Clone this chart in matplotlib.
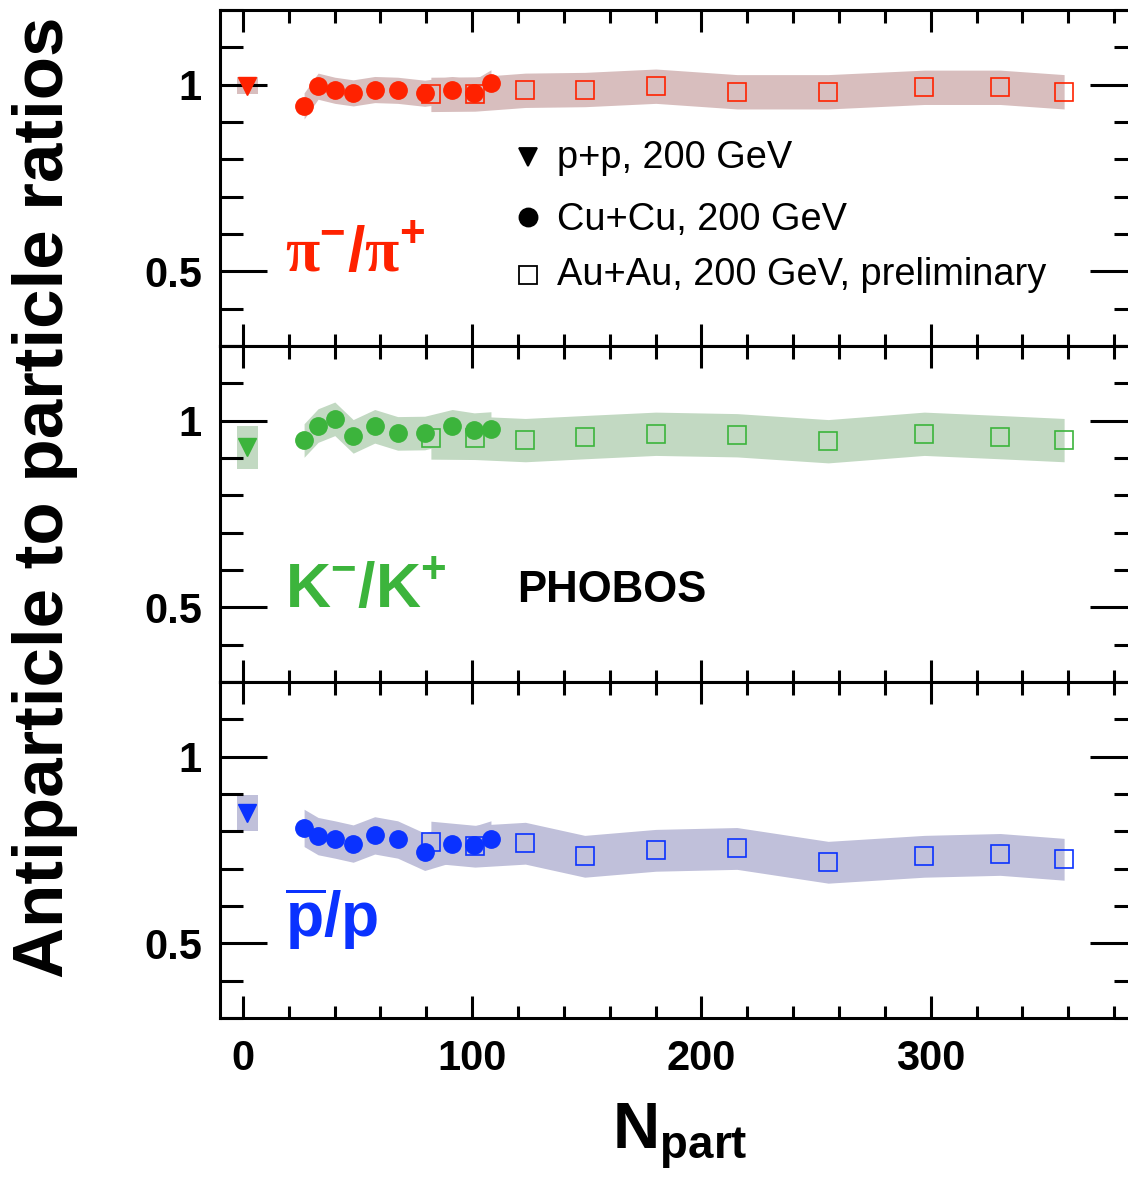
import numpy as np
import matplotlib.pyplot as plt
from matplotlib.ticker import MultipleLocator, FuncFormatter

plt.rcParams['font.family'] = ['Liberation Sans', 'DejaVu Sans']
plt.rcParams['font.weight'] = 'bold'
plt.rcParams['mathtext.fontset'] = 'custom'
plt.rcParams['mathtext.rm'] = 'Liberation Serif'
plt.rcParams['mathtext.bf'] = 'Liberation Sans:bold'
plt.rcParams['mathtext.it'] = 'Liberation Sans:italic'
plt.rcParams['mathtext.sf'] = 'Liberation Sans'

# N_part values
npart_pp = [2.0]
npart_cu = [26.7, 32.8, 40.1, 48.1, 57.5, 67.5, 79.3, 91.3, 100.9, 108.2]
npart_au = [82.0, 101.2, 123.2, 149.1, 180.1, 215.5, 255.3, 297.2, 330.3, 358.2]

# pi-/pi+
pi_pp, pi_pp_err = [0.997], 0.023
pi_cu = [0.943, 0.996, 0.985, 0.978, 0.987, 0.985, 0.977, 0.987, 0.978, 1.005]
pi_cu_err = 0.035
pi_au = [0.974, 0.975, 0.985, 0.987, 0.996, 0.981, 0.981, 0.993, 0.993, 0.981]
pi_au_err = 0.046

# K-/K+
k_pp, k_pp_err = [0.929], 0.058
k_cu = [0.947, 0.987, 1.005, 0.958, 0.985, 0.966, 0.967, 0.985, 0.976, 0.979]
k_cu_err = 0.045
k_au = [0.955, 0.954, 0.948, 0.956, 0.965, 0.961, 0.945, 0.965, 0.956, 0.948]
k_au_err = 0.058

# pbar/p
p_pp, p_pp_err = [0.849], 0.048
p_cu = [0.809, 0.787, 0.778, 0.767, 0.789, 0.778, 0.745, 0.767, 0.764, 0.778]
p_cu_err = 0.050
p_au = [0.771, 0.760, 0.768, 0.733, 0.749, 0.754, 0.717, 0.733, 0.738, 0.725]
p_au_err = 0.056

panels = [
    (pi_pp, pi_pp_err, pi_cu, pi_cu_err, pi_au, pi_au_err, '#ff2200', '#d8bebe',
     r'$\mathrm{\pi}^{\mathbf{-}}\mathbf{/}\mathrm{\pi}^{\mathbf{+}}$', 0.2202),
    (k_pp, k_pp_err, k_cu, k_cu_err, k_au, k_au_err, '#3cb43c', '#c2d9c2',
     r'$\mathbf{K^{-}/K^{+}}$', 0.2202),
    (p_pp, p_pp_err, p_cu, p_cu_err, p_au, p_au_err, '#0a32ff', '#c0c0da',
     r'$\mathbf{\overline{p}/p}$', 0.238),
]
bottoms = [0.7065, 0.4215, 0.1366]

fig = plt.figure(figsize=(11.28, 11.79), dpi=100)
axes = []
for i, (pp, pp_e, cu, cu_e, au, au_e, col, band, lab, laby) in enumerate(panels):
    ax = fig.add_axes([0.195, bottoms[i], 0.813, 0.285])
    cu = np.array(cu)
    au = np.array(au)

    # systematic error bands
    ax.bar(npart_pp, 2 * pp_e, bottom=np.array(pp) - pp_e, width=9.5, color=band, lw=0)
    ax.fill_between(npart_cu, cu - cu_e, cu + cu_e, color=band, lw=0)
    ax.fill_between(npart_au, au - au_e, au + au_e, color=band, lw=0)

    # points
    ax.plot(npart_au, au, 's', mfc='none', mec=col, ms=13, mew=1.2, zorder=3)
    ax.plot(npart_cu, cu, 'o', color=col, ms=12.5, zorder=4)
    ax.plot(npart_pp, pp, 'v', color=col, ms=12.5, zorder=4)

    ax.set_xlim(-10, 390)
    ax.set_ylim(0.3, 1.2)
    ax.xaxis.set_major_locator(MultipleLocator(100))
    ax.xaxis.set_minor_locator(MultipleLocator(20))
    ax.yaxis.set_major_locator(MultipleLocator(0.5))
    ax.yaxis.set_minor_locator(MultipleLocator(0.1))
    ax.yaxis.set_major_formatter(FuncFormatter(lambda v, p: f"{v:g}"))
    ax.tick_params(which='both', direction='in', top=True, right=True,
                   width=2.2, labelsize=30)
    ax.tick_params(axis='x', which='major', length=16, pad=15)
    ax.tick_params(axis='x', which='minor', length=9)
    ax.tick_params(axis='y', which='major', length=34, pad=13)
    ax.tick_params(axis='y', which='minor', length=16.5)
    if i < 2:
        ax.tick_params(axis='x', labelbottom=False)
    for s in ax.spines.values():
        s.set_linewidth(2.2)

    ax.text(0.0709, laby, lab, transform=ax.transAxes, color=col,
            fontsize=45, ha='left', va='baseline')
    axes.append(ax)

# legend
ax = axes[0]
leg_entries = [('v', 'p+p, 200 GeV', 0.5625, 0.5298, 'k'),
               ('o', 'Cu+Cu, 200 GeV', 0.3839, 0.3452, 'k'),
               ('s', 'Au+Au, 200 GeV, preliminary', 0.2113, 0.1815, 'none')]
for m, txt, ym, yt, fc in leg_entries:
    ax.plot([0.3359], [ym], m, transform=ax.transAxes, ms=13,
            mfc=fc, mec='k', mew=1.3, clip_on=False)
    ax.text(0.3675, yt, txt, transform=ax.transAxes, fontsize=27.4,
            fontweight='normal', ha='left', va='baseline')

axes[1].text(0.3239, 0.2381, 'PHOBOS', transform=axes[1].transAxes,
             fontsize=31.5, fontweight='bold', ha='left', va='baseline')

fig.text(0.0399, 0.5785, 'Antiparticle to particle ratios', rotation=90,
         fontsize=51, fontweight='bold', ha='center', va='center')
fig.text(680 / 1128, 1 - 1150 / 1179, r'$\mathbf{N_{part}}$', fontsize=47,
         ha='center', va='baseline')

fig.savefig('out.png', dpi=100)
